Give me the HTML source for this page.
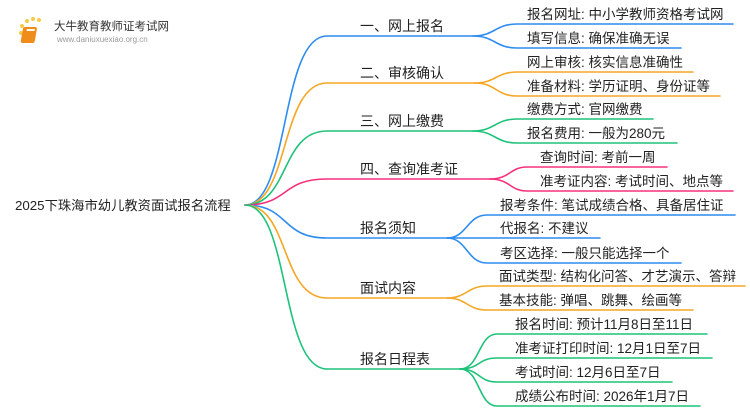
<!DOCTYPE html>
<html><head><meta charset="utf-8"><style>
html,body{margin:0;padding:0;background:#fff;width:750px;height:410px;overflow:hidden}
text{font-family:"Liberation Sans","Noto Sans CJK SC",sans-serif;fill:#222}
</style></head><body>
<svg width="750" height="410" viewBox="0 0 750 410" xmlns="http://www.w3.org/2000/svg">
<g fill="none" stroke-width="1.6" stroke-linecap="round">
<g stroke="#2d8cf0">
<path d="M245 205 C290 205 280 36 327 36 L473 36"/>
<path d="M473 36 C495 36 495 24 517 24 L733 24"/>
<path d="M473 36 C495 36 495 48 517 48 L681 48"/>
</g>
<g stroke="#f5a623">
<path d="M245 205 C290 205 280 83 327 83 L475 83"/>
<path d="M475 83 C496 83 496 72 517 72 L693 72"/>
<path d="M475 83 C496 83 496 96 517 96 L720 96"/>
</g>
<g stroke="#1fc27a">
<path d="M245 205 C290 205 280 131 327 131 L473 131"/>
<path d="M473 131 C495 131 495 119 517 119 L653 119"/>
<path d="M473 131 C495 131 495 143 517 143 L677 143"/>
</g>
<g stroke="#f5307a">
<path d="M245 205 C290 205 280 179 327 179 L490 179"/>
<path d="M490 179 C510 179 510 167 527 167 L667 167"/>
<path d="M490 179 C510 179 510 191 527 191 L733 191"/>
</g>
<g stroke="#2d8cf0">
<path d="M245 205 C290 205 280 238 327 238 L447 238"/>
<path d="M447 238 C467 238 467 215 487 215 L735 215"/>
<path d="M447 238 L600 238"/>
<path d="M447 238 C467 238 467 263 487 263 L681 263"/>
</g>
<g stroke="#f5a623">
<path d="M245 205 C290 205 280 298 327 298 L447 298"/>
<path d="M447 298 C467 298 467 286 487 286 L745 286"/>
<path d="M447 298 C467 298 467 310 487 310 L693 310"/>
</g>
<g stroke="#1fc27a">
<path d="M245 205 C290 205 280 369 327 369 L460 369"/>
<path d="M460 369 C480 369 478 334 497 334 L707 334"/>
<path d="M460 369 C480 369 478 358 497 358 L712 358"/>
<path d="M460 369 C480 369 478 382 497 382 L672 382"/>
<path d="M460 369 C480 369 478 406 497 406 L700 406"/>
</g>
</g>
<g>
<circle cx="22" cy="26" r="2" fill="#f7c948"/><circle cx="27" cy="21" r="2" fill="#f7c948"/><circle cx="33" cy="19" r="2" fill="#f7c948"/><circle cx="39" cy="20" r="2" fill="#f7c948"/><circle cx="21" cy="33" r="2" fill="#f7c948"/><circle cx="23" cy="40" r="1.5" fill="#f7c948"/>
<rect x="28" y="27" width="14" height="16" rx="2" fill="#f08c1a" transform="skewX(-10)"/>
<rect x="32" y="29" width="8" height="2" fill="#fff" transform="skewX(-10)"/>
</g>
<text x="54" y="30" font-size="11.5" style="fill:#333">大牛教育教师证考试网</text>
<text x="57" y="42" font-size="8" style="fill:#999">www.daniuxuexiao.org.cn</text>
<text x="15" y="210" font-size="13.3">2025下珠海市幼儿教资面试报名流程</text>
<g font-size="14">
<text x="360" y="31">一、网上报名</text>
<text x="360" y="78">二、审核确认</text>
<text x="360" y="126">三、网上缴费</text>
<text x="360" y="174">四、查询准考证</text>
<text x="360" y="233">报名须知</text>
<text x="360" y="293">面试内容</text>
<text x="360" y="364">报名日程表</text>
</g>
<g font-size="13.5">
<text x="527" y="19">报名网址: 中小学教师资格考试网</text>
<text x="527" y="43">填写信息: 确保准确无误</text>
<text x="527" y="67">网上审核: 核实信息准确性</text>
<text x="527" y="91">准备材料: 学历证明、身份证等</text>
<text x="527" y="114">缴费方式: 官网缴费</text>
<text x="527" y="138">报名费用: 一般为280元</text>
<text x="540" y="162">查询时间: 考前一周</text>
<text x="540" y="186">准考证内容: 考试时间、地点等</text>
<text x="500" y="210">报考条件: 笔试成绩合格、具备居住证</text>
<text x="500" y="233">代报名: 不建议</text>
<text x="500" y="258">考区选择: 一般只能选择一个</text>
<text x="499" y="281">面试类型: 结构化问答、才艺演示、答辩</text>
<text x="499" y="305">基本技能: 弹唱、跳舞、绘画等</text>
<text x="515" y="329">报名时间: 预计11月8日至11日</text>
<text x="515" y="353">准考证打印时间: 12月1日至7日</text>
<text x="515" y="377">考试时间: 12月6日至7日</text>
<text x="515" y="401">成绩公布时间: 2026年1月7日</text>
</g>
</svg>
</body></html>
